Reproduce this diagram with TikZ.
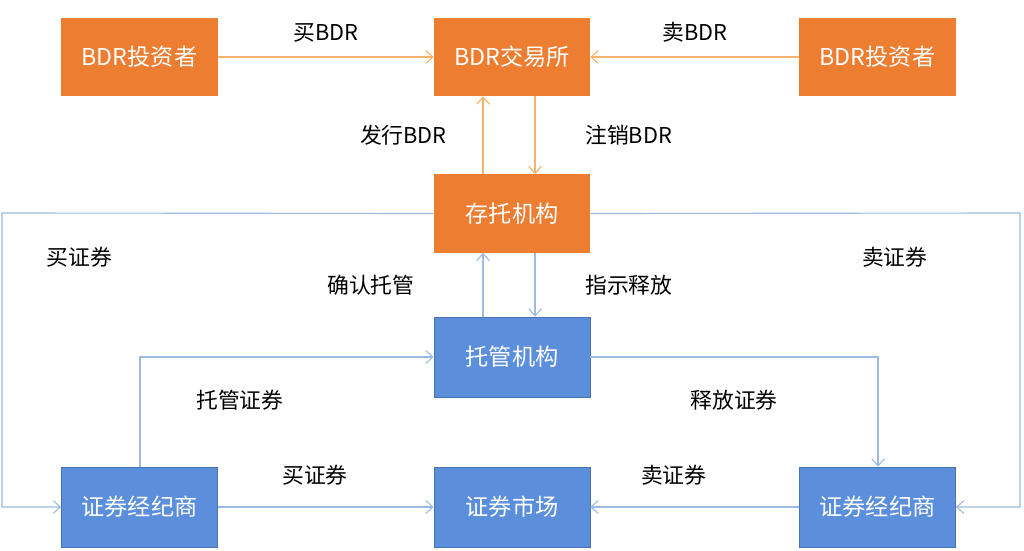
\documentclass[tikz,border=0pt]{standalone}
\usepackage{fontspec}
\setmainfont{Noto Sans CJK SC}
\usepackage{tikz}
\usetikzlibrary{positioning,arrows.meta}
\definecolor{bdrorange}{HTML}{ED7D31}
\definecolor{bdrblue}{HTML}{5B8FDB}
\definecolor{lineorange}{HTML}{F4B36A}
\definecolor{lineblue}{HTML}{9DBBE0}

\begin{document}
\begin{tikzpicture}[x=0.025cm,y=-0.025cm,font=\fontsize{15.5}{18}\selectfont,
	ob/.style={fill=bdrorange,text=white,minimum width=3.9cm,minimum height=1.95cm,inner sep=0pt,font=\fontsize{16.5}{18}\selectfont},
	bb/.style={fill=bdrblue,draw=bdrblue!80!black,text=white,minimum width=3.9cm,minimum height=2cm,inner sep=0pt,font=\fontsize{16.5}{18}\selectfont},
	oa/.style={draw=lineorange,thick,-{Straight Barb[length=5pt,width=9pt]}},
	ba/.style={draw=lineblue,thick,-{Straight Barb[length=5pt,width=9pt]}}]
	\useasboundingbox[fill=white] (0,0) rectangle (1024,551);
	% top row
	\node(inv1)[ob] at (139.5,57){BDR投资者};
	\node(exch)[ob] at (512,57){BDR交易所};
	\node(inv2)[ob] at (877.5,57){BDR投资者};
	\node(depo)[ob] at (512,213.5){存托机构};
	\node(cust)[bb] at (512,357){托管机构};
	% bottom row
	\node(brk1)[bb] at (139.5,507){证券经纪商};
	\node(mkt)[bb] at (512,507){证券市场};
	\node(brk2)[bb] at (877.5,507){证券经纪商};
	\draw[oa] (inv1) -- node[above=7pt]{买BDR} (exch);
	\draw[oa] (inv2) -- node[above=7pt]{卖BDR} (exch);
	\draw[oa] (depo.north-|483,0) -- node[left=22pt]{发行BDR} (exch.south-|483,0);
	\draw[oa] (exch.south-|535,0) -- node[right=32pt]{注销BDR} (depo.north-|535,0);
	\draw[ba] (cust.north-|483,0) -- node[left=45pt]{确认托管} (depo.south-|483,0);
	\draw[ba] (depo.south-|535,0) -- node[right=32pt]{指示释放} (cust.north-|535,0);
	\draw[ba] (brk1.north-|140,0) -- (140,357) -- node[pos=0.34,below=20pt]{托管证券} (cust.west);
	\draw[ba] (cust.east) -- node[pos=0.5,below=20pt]{释放证券} (878,357) -- (brk2.north-|878,0);
	\draw[ba] (depo.west) -- (2,213) -- node[pos=0.15,right=28pt]{买证券} (2,507) -- (brk1.west);
	\draw[ba] (depo.east) -- (1020,213) -- node[pos=0.15,left=62pt]{卖证券} (1020,507) -- (brk2.east);
	\draw[ba] (brk1) -- node[pos=0.45,above=12pt]{买证券} (mkt);
	\draw[ba] (brk2) -- node[pos=0.6,above=12pt]{卖证券} (mkt);
\end{tikzpicture}
\end{document}
